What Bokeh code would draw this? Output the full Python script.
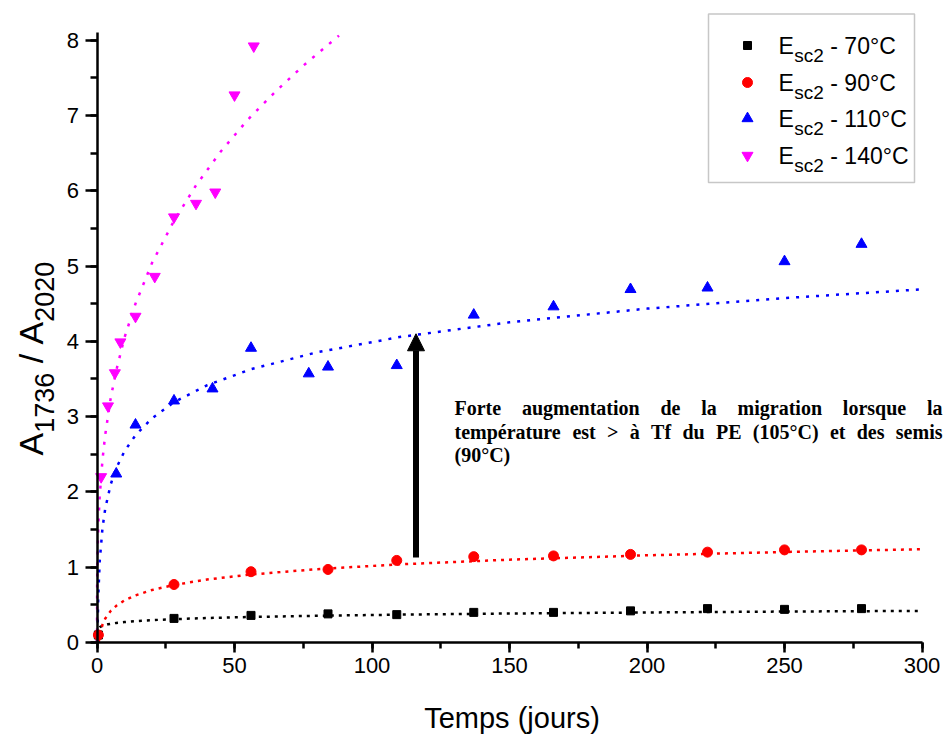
import math
from bokeh.plotting import figure
from bokeh.models import Label, BoxAnnotation, Arrow, NormalHead, SingleIntervalTicker, Range1d
from bokeh.embed import file_html
from bokeh.resources import INLINE

# ---------------- data ----------------
days_70 = [0.5, 28, 56, 84, 109, 137, 166, 194, 222, 250, 278]
ratio_70 = [0.10, 0.32, 0.36, 0.38, 0.37, 0.40, 0.40, 0.42, 0.45, 0.44, 0.45]

days_90 = [0.5, 28, 56, 84, 109, 137, 166, 194, 222, 250, 278]
ratio_90 = [0.10, 0.77, 0.94, 0.97, 1.09, 1.14, 1.15, 1.17, 1.20, 1.23, 1.23]

days_110 = [7, 14, 28, 42, 56, 77, 84, 109, 137, 166, 194, 222, 250, 278]
ratio_110 = [2.24, 2.89, 3.21, 3.37, 3.91, 3.57, 3.66, 3.68, 4.35, 4.46, 4.69, 4.71, 5.06, 5.29]

days_140 = [1.5, 4, 6.5, 8.5, 14, 21, 28, 36, 43, 50, 57]
ratio_140 = [2.20, 3.14, 3.58, 3.99, 4.33, 4.86, 5.65, 5.83, 5.98, 7.27, 7.92]

# fitted trend curves (dotted)
fit_x_70 = [0, 0.01, 0.05, 0.2, 0.5, 1, 2, 4, 7, 10, 14, 20, 28, 40, 56, 80, 110, 150, 200, 250, 300]
fit_y_70 = [0, 0.11, 0.14, 0.165, 0.185, 0.203, 0.221, 0.242, 0.260, 0.272, 0.284, 0.297, 0.310,
            0.325, 0.339, 0.355, 0.370, 0.385, 0.399, 0.411, 0.420]

fit_x_90 = [0.6, 1, 2, 3, 5, 7, 10, 14, 20, 28, 40, 56, 80, 110, 150, 200, 250, 300]
fit_y_90 = [0.0, 0.098, 0.237, 0.318, 0.420, 0.487, 0.559, 0.626, 0.697, 0.764, 0.836, 0.903,
            0.974, 1.038, 1.100, 1.158, 1.202, 1.239]

fit_x_110 = [0.18, 0.3, 0.5, 1, 2, 3, 5, 7, 10, 14, 20, 28, 40, 56, 80, 110, 150, 200, 250, 300]
fit_y_110 = [0.0, 0.324, 0.647, 1.085, 1.523, 1.779, 2.102, 2.315, 2.540, 2.753, 2.978, 3.191,
             3.416, 3.629, 3.854, 4.056, 4.252, 4.434, 4.574, 4.690]

fit_x_140 = [0, 0.05, 0.2, 0.5, 1, 2, 3, 5, 7, 10, 14, 20, 28, 36, 45, 55, 65, 75, 88]
fit_y_140 = [0, 0.75, 1.17, 1.57, 1.95, 2.43, 2.76, 3.25, 3.61, 4.05, 4.50, 5.04, 5.60, 6.07,
             6.52, 6.95, 7.32, 7.66, 8.06]

series_labels = ["- 70°C", "- 90°C", "- 110°C", "- 140°C"]
series_colors = ["#000000", "#FF0000", "#0000FF", "#FF00FF"]
series_markers = ["square", "circle", "triangle", "inverted_triangle"]

x_ticks_interval = 50
y_ticks_interval = 1
x_axis_bounds = (0, 300)
y_axis_bounds = (0, 8.1)

annotation_lines = ["Forte augmentation de la migration lorsque la",
                    "température est > à Tf du PE (105°C) et des semis",
                    "(90°C)"]
arrow_x = 116
arrow_y = (1.13, 4.10)

# ---------------- layout ----------------
W, H = 945, 736
X0_PX, X_SCALE = 96.5, 2.75     # canvas x of day 0, pixels per day
Y0_PX, Y_SCALE = 642.0, 75.3    # canvas y of ratio 0, pixels per unit


def dx(px):
    """canvas pixel x -> data x"""
    return (px - X0_PX) / X_SCALE


def dy(py):
    """canvas pixel y -> data y"""
    return (Y0_PX - py) / Y_SCALE


ARIAL = {'A': 667, 'E': 667, 'C': 722, 'T': 611, ' ': 278, '/': 278, '-': 333, '°': 400,
         's': 500, 'c': 500, 'e': 556, 'm': 833, 'p': 556, '(': 333, ')': 333, 'j': 222,
         'o': 556, 'u': 556, 'r': 333}
TIMES_B = {' ': 250, '(': 333, ')': 333, '>': 570, '°': 400, 'C': 722, 'E': 667, 'F': 611,
           'P': 611, 'T': 667, 'a': 500, 'à': 500, 'd': 556, 'e': 444, 'é': 444, 'f': 333,
           'g': 500, 'i': 278, 'l': 278, 'm': 833, 'n': 556, 'o': 500, 'p': 556, 'q': 556,
           'r': 444, 's': 389, 't': 333, 'u': 556}


def tw(s, size, table, default=556):
    return sum(table.get(ch, default) for ch in s) / 1000.0 * size


p = figure(width=W, height=H, output_backend="svg", toolbar_location=None,
           x_range=Range1d(dx(0), dx(W)), y_range=Range1d(dy(H), dy(0)),
           min_border_left=0, min_border_right=0, min_border_top=0, min_border_bottom=0)
p.background_fill_color = "white"
p.border_fill_color = "white"
p.outline_line_color = None
p.xgrid.visible = False
p.ygrid.visible = False

for ax, iv, tout, mout, bnd in ((p.xaxis[0], x_ticks_interval, 10, 6, x_axis_bounds),
                                (p.yaxis[0], y_ticks_interval, 12, 7, y_axis_bounds)):
    ax.fixed_location = 0
    ax.ticker = SingleIntervalTicker(interval=iv, num_minor_ticks=2)
    ax.bounds = bnd
    ax.axis_line_width = 2.5
    ax.axis_line_color = "black"
    ax.major_tick_in = 0
    ax.major_tick_out = tout
    ax.minor_tick_in = 0
    ax.minor_tick_out = mout
    ax.major_tick_line_width = 2.5
    ax.minor_tick_line_width = 2.5
    ax.major_tick_line_color = "black"
    ax.minor_tick_line_color = "black"
    ax.major_label_text_font = "Liberation Sans"
    ax.major_label_text_font_size = "22px"
    ax.major_label_text_color = "black"
p.xaxis.major_label_standoff = 5
p.yaxis.major_label_standoff = 6

# fitted curves
dashes = ["3 5", "3 5", "3 7", "3 8"]
for fx, fy, c, d in ((fit_x_70, fit_y_70, series_colors[0], dashes[0]),
                     (fit_x_90, fit_y_90, series_colors[1], dashes[1]),
                     (fit_x_110, fit_y_110, series_colors[2], dashes[2]),
                     (fit_x_140, fit_y_140, series_colors[3], dashes[3])):
    p.line(fx, fy, line_color=c, line_width=2.5, line_dash=d)

# data points
sizes = [8, 10, 11, 11]
for xs, ys, c, m, s in ((days_70, ratio_70, series_colors[0], series_markers[0], sizes[0]),
                        (days_110, ratio_110, series_colors[2], series_markers[2], sizes[2]),
                        (days_140, ratio_140, series_colors[3], series_markers[3], sizes[3]),
                        (days_90, ratio_90, series_colors[1], series_markers[1], sizes[1])):
    p.scatter(xs, ys, marker=m, size=s, fill_color=c, line_color=c, line_width=1)

# arrow
p.add_layout(Arrow(x_start=arrow_x, y_start=arrow_y[0], x_end=arrow_x, y_end=arrow_y[1],
                   line_width=6, line_color="black",
                   end=NormalHead(size=17, fill_color="black", line_color="black", line_width=1)))


def label(xpx, ypx, text, font, size, style="normal", align="left", angle=0.0):
    p.add_layout(Label(x=dx(xpx), y=dy(ypx), text=text, text_font=font,
                       text_font_style=style, text_font_size=f"{size}px", text_color="black",
                       text_align=align, text_baseline="middle", angle=angle, angle_units="rad"))


# annotation text (justified, Times bold)
ann_size = 20
ann_left, ann_right = 454, 942
ann_centers = [407, 431, 454]
for li, (line, cy) in enumerate(zip(annotation_lines, ann_centers)):
    words = line.split(" ")
    if li < 2:
        total = sum(tw(w, ann_size, TIMES_B, 500) for w in words)
        gap = (ann_right - ann_left - total) / (len(words) - 1)
    else:
        gap = tw(" ", ann_size, TIMES_B)
    xcur = ann_left
    for w in words:
        label(xcur, cy, w, "Liberation Serif", ann_size, style="bold")
        xcur += tw(w, ann_size, TIMES_B, 500) + gap

# legend box
p.add_layout(BoxAnnotation(left=dx(708), right=dx(914), top=dy(13.5), bottom=dy(182),
                           fill_color=None, fill_alpha=0, line_color="#444444", line_width=1.5))
leg_rows = [45, 82, 118, 155]
leg_mx = [dx(747)] * 4
leg_my = [dy(r) for r in leg_rows]
for i in range(4):
    p.scatter([leg_mx[i]], [leg_my[i]], marker=series_markers[i], size=sizes[i],
              fill_color=series_colors[i], line_color=series_colors[i])
    cy = leg_rows[i]
    x0 = 778
    label(x0, cy, "E", "Liberation Sans", 23)
    x1 = x0 + tw("E", 23, ARIAL) + 0.5
    label(x1, cy + 10, "sc2", "Liberation Sans", 19)
    x2 = x1 + tw("sc2", 19, ARIAL) + tw(" ", 23, ARIAL)
    label(x2, cy, series_labels[i], "Liberation Sans", 23)

# y axis title  A_1736 / A_2020 (rotated)
main_sz, sub_sz = 34, 27
main_cx, sub_cx = 30, 44
ycur = 455
for txt, sz, cx, pre in (("A", main_sz, main_cx, 0), ("1736", sub_sz, sub_cx, 0),
                         ("/", main_sz, main_cx, 1), ("A", main_sz, main_cx, 1),
                         ("2020", sub_sz, sub_cx, 0)):
    ycur -= pre * tw(" ", main_sz, ARIAL)
    label(cx, ycur, txt, "Liberation Sans", sz, angle=math.pi / 2)
    ycur -= tw(txt, sz, ARIAL)

# x axis title
label(511.5, 717, "Temps (jours)", "Liberation Sans", 29, align="center")

open("out.html", "w").write(file_html(p, INLINE))
